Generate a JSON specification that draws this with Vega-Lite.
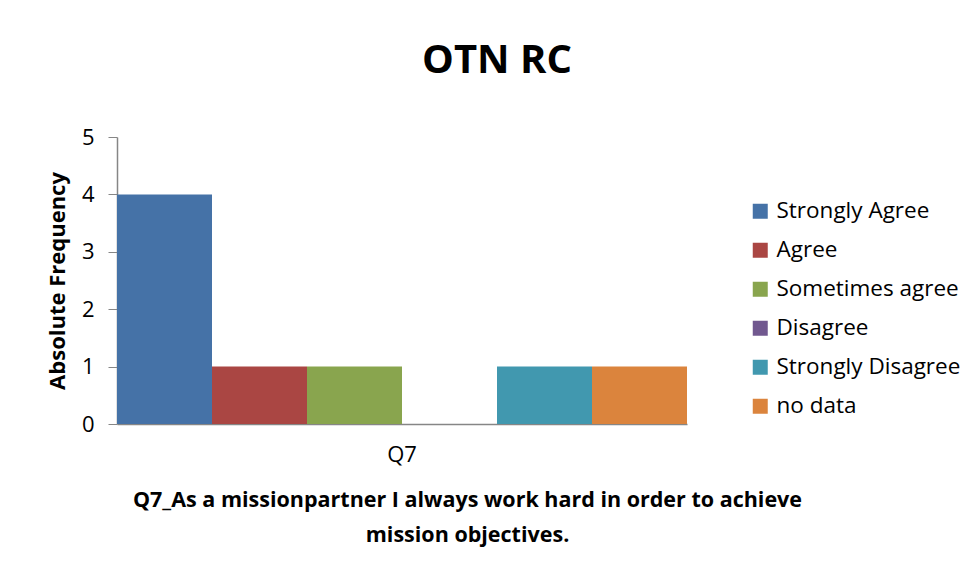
{
  "$schema": "https://vega.github.io/schema/vega-lite/v6.json",
  "width": 570,
  "height": 287,
  "autosize": {"type": "none"},
  "padding": {"left": 117, "top": 137, "right": 292, "bottom": 153},
  "background": "white",
  "title": {
    "text": "OTN RC",
    "font": "Open Sans",
    "fontSize": 40,
    "fontWeight": "bold",
    "color": "#000000",
    "anchor": "middle",
    "dx": 95,
    "offset": 45
  },
  "data": {
    "values": [
      {"q": "Q7", "response": "Strongly Agree", "count": 4},
      {"q": "Q7", "response": "Agree", "count": 1},
      {"q": "Q7", "response": "Sometimes agree", "count": 1},
      {"q": "Q7", "response": "Disagree", "count": 0},
      {"q": "Q7", "response": "Strongly Disagree", "count": 1},
      {"q": "Q7", "response": "no data", "count": 1}
    ]
  },
  "mark": {"type": "bar"},
  "encoding": {
    "x": {
      "field": "q",
      "type": "nominal",
      "scale": {"paddingInner": 0, "paddingOuter": 0},
      "axis": {
        "title": ["Q7_As a missionpartner I always work hard in order to achieve", "mission objectives."],
        "titleFont": "Open Sans",
        "titleFontSize": 21.5,
        "titleFontWeight": "bold",
        "titleColor": "#000000",
        "titleLineHeight": 35,
        "titleX": 350,
        "titlePadding": 24,
        "labelFont": "Open Sans",
        "labelFontSize": 22,
        "labelColor": "#000000",
        "labelAngle": 0,
        "labelPadding": 20,
        "ticks": false,
        "domainColor": "#868686",
        "domainWidth": 1.5
      }
    },
    "xOffset": {
      "field": "response",
      "type": "nominal",
      "sort": ["Strongly Agree", "Agree", "Sometimes agree", "Disagree", "Strongly Disagree", "no data"],
      "scale": {"paddingInner": 0, "paddingOuter": 0}
    },
    "y": {
      "field": "count",
      "type": "quantitative",
      "scale": {"domain": [0, 5]},
      "axis": {
        "title": "Absolute Frequency",
        "titleFont": "Open Sans",
        "titleFontSize": 22,
        "titleFontWeight": "bold",
        "titleColor": "#000000",
        "titlePadding": 12,
        "labelFont": "Open Sans",
        "labelFontSize": 22,
        "labelColor": "#000000",
        "labelPadding": 14,
        "values": [0, 1, 2, 3, 4, 5],
        "format": "d",
        "grid": false,
        "tickSize": 9,
        "tickColor": "#868686",
        "domainColor": "#868686",
        "domainWidth": 1.5
      }
    },
    "color": {
      "field": "response",
      "type": "nominal",
      "sort": ["Strongly Agree", "Agree", "Sometimes agree", "Disagree", "Strongly Disagree", "no data"],
      "scale": {
        "domain": ["Strongly Agree", "Agree", "Sometimes agree", "Disagree", "Strongly Disagree", "no data"],
        "range": ["#4572A7", "#AA4643", "#89A54E", "#71588F", "#4198AF", "#DB843D"]
      },
      "legend": {
        "title": null,
        "orient": "none",
        "legendX": 632,
        "legendY": 63,
        "symbolType": "square",
        "symbolSize": 225,
        "symbolStrokeWidth": 0,
        "labelFont": "Open Sans",
        "labelFontSize": 22.5,
        "labelColor": "#000000",
        "labelOffset": 5,
        "labelLimit": 300,
        "rowPadding": 16
      }
    }
  },
  "config": {
    "view": {"stroke": null}
  }
}
